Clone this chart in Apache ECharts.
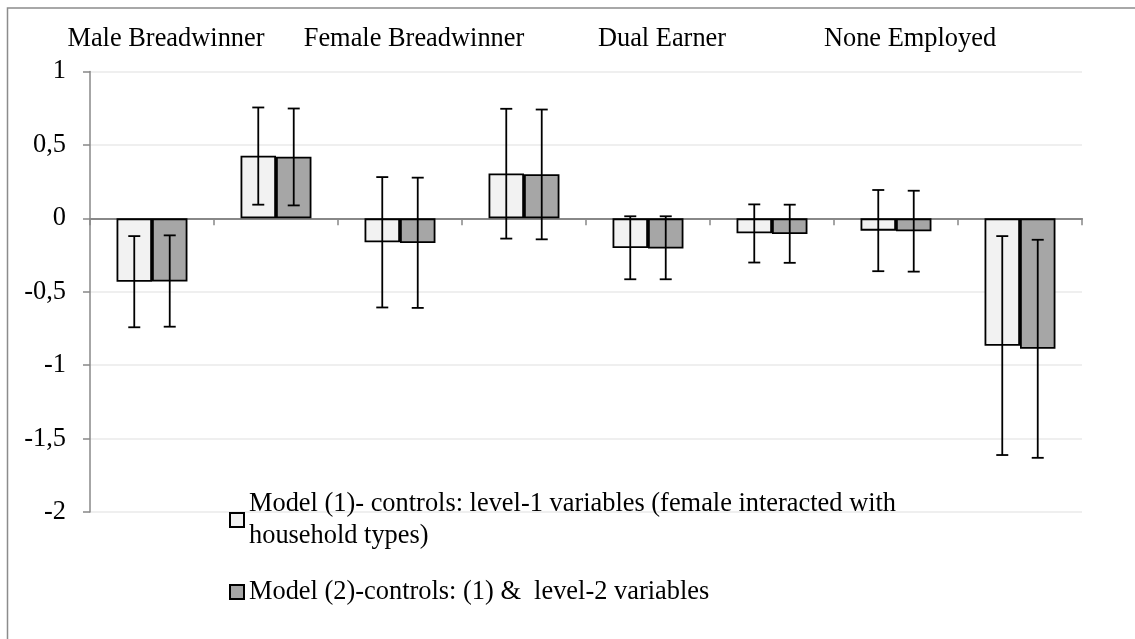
<!DOCTYPE html>
<html>
<head>
<meta charset="utf-8">
<script src="https://cdn.jsdelivr.net/npm/echarts@6/dist/echarts.min.js"></script>
<style>
html,body{margin:0;padding:0;background:#fff;}
#chart{width:1135px;height:639px;}
</style>
</head>
<body>
<div id="chart"></div>
<script>
// ---- data ----
var categories = ['MB-1', 'MB-2', 'FB-1', 'FB-2', 'DE-1', 'DE-2', 'NE-1', 'NE-2'];
var groupLabels = ['Male Breadwinner', 'Female Breadwinner', 'Dual Earner', 'None Employed'];
var seriesNames = [
  'Model (1)- controls: level-1 variables (female interacted with\nhousehold types)',
  'Model (2)-controls: (1) &  level-2 variables'
];
var model1 = [-0.432, 0.427, -0.163, 0.306, -0.202, -0.102, -0.084, -0.868];
var model2 = [-0.430, 0.420, -0.168, 0.301, -0.206, -0.107, -0.088, -0.888];
var model1Low  = [-0.742, 0.093, -0.607, -0.138, -0.415, -0.301, -0.360, -1.612];
var model1High = [-0.121, 0.755, 0.281, 0.746, 0.014, 0.095, 0.193, -0.121];
var model2Low  = [-0.738, 0.088, -0.610, -0.143, -0.415, -0.303, -0.363, -1.631];
var model2High = [-0.116, 0.748, 0.277, 0.741, 0.014, 0.093, 0.188, -0.146];
var yTicks = { min: -2, max: 1, interval: 0.5 };

var FONT = '"Liberation Serif", "Times New Roman", serif';
var FS = 26.4;
var BAR_RATIO = 0.286;

function errData(lo, hi) {
  return lo.map(function (v, i) { return [i, v, hi[i]]; });
}
function errRender(sign) {
  return function (params, api) {
    var idx = api.value(0);
    var band = api.size([1, 0])[0];
    var off = sign * band * BAR_RATIO / 2;
    var pLo = api.coord([idx, api.value(1)]);
    var pHi = api.coord([idx, api.value(2)]);
    var x = pLo[0] + off;
    var cap = 6;
    var st = { stroke: '#000', lineWidth: 1.8 };
    return {
      type: 'group',
      children: [
        { type: 'line', shape: { x1: x, y1: pLo[1], x2: x, y2: pHi[1] }, style: st },
        { type: 'line', shape: { x1: x - cap, y1: pLo[1], x2: x + cap, y2: pLo[1] }, style: st },
        { type: 'line', shape: { x1: x - cap, y1: pHi[1], x2: x + cap, y2: pHi[1] }, style: st }
      ]
    };
  };
}

var chart = echarts.init(document.getElementById('chart'));
chart.setOption({
  animation: false,
  backgroundColor: '#fff',
  textStyle: { fontFamily: FONT },
  graphic: [{
    type: 'rect', silent: true, z: -10,
    shape: { x: 7.5, y: 8, width: 1200, height: 700 },
    style: { fill: 'none', stroke: '#8c8c8c', lineWidth: 1.5 }
  }],
  grid: { left: 90, right: 53, top: 71.5, bottom: 127, containLabel: false },
  legend: {
    orient: 'vertical',
    left: 229, top: 472,
    padding: 0,
    itemGap: 8,
    itemWidth: 14, itemHeight: 14,
    icon: 'rect',
    selectedMode: false,
    textStyle: { fontFamily: FONT, fontSize: FS, color: '#000', lineHeight: 32 },
    data: [
      { name: seriesNames[0], textStyle: { padding: [32, 0, 0, 0] } },
      { name: seriesNames[1] }
    ]
  },
  xAxis: [{
    type: 'category',
    data: categories,
    axisLine: { onZero: true, lineStyle: { color: '#888', width: 2 } },
    axisTick: { show: true, length: 7, lineStyle: { color: '#888', width: 1.5 } },
    axisLabel: { show: false },
    splitLine: { show: false }
  }, {
    type: 'category',
    position: 'top',
    data: groupLabels,
    axisLine: { show: false, onZero: false },
    axisTick: { show: false },
    axisLabel: {
      show: true, interval: 0, margin: 19,
      fontFamily: FONT, fontSize: FS, color: '#000',
      padding: [0, 96, 0, 0]
    },
    splitLine: { show: false }
  }],
  yAxis: {
    type: 'value',
    min: yTicks.min, max: yTicks.max, interval: yTicks.interval,
    axisLine: { show: true, lineStyle: { color: '#888', width: 1.5 } },
    axisTick: { show: true, length: 7, lineStyle: { color: '#888', width: 1.5 } },
    axisLabel: {
      margin: 24, fontFamily: FONT, fontSize: FS, color: '#000',
      formatter: function (v) { return String(v).replace('.', ','); }
    },
    splitLine: { show: true, lineStyle: { color: '#efefef', width: 2 } }
  },
  series: [{
    name: seriesNames[0], type: 'bar', data: model1,
    barWidth: (BAR_RATIO * 100) + '%', barGap: '0%',
    itemStyle: { color: '#f2f2f2', borderColor: '#000', borderWidth: 1.8 }
  }, {
    name: seriesNames[1], type: 'bar', data: model2,
    barWidth: (BAR_RATIO * 100) + '%', barGap: '0%',
    itemStyle: { color: '#a6a6a6', borderColor: '#000', borderWidth: 1.8 }
  }, {
    type: 'custom', name: 'err1', renderItem: errRender(-1),
    data: errData(model1Low, model1High), encode: { x: 0, y: [1, 2] }, z: 10
  }, {
    type: 'custom', name: 'err2', renderItem: errRender(1),
    data: errData(model2Low, model2High), encode: { x: 0, y: [1, 2] }, z: 10
  }]
});
</script>
</body>
</html>
